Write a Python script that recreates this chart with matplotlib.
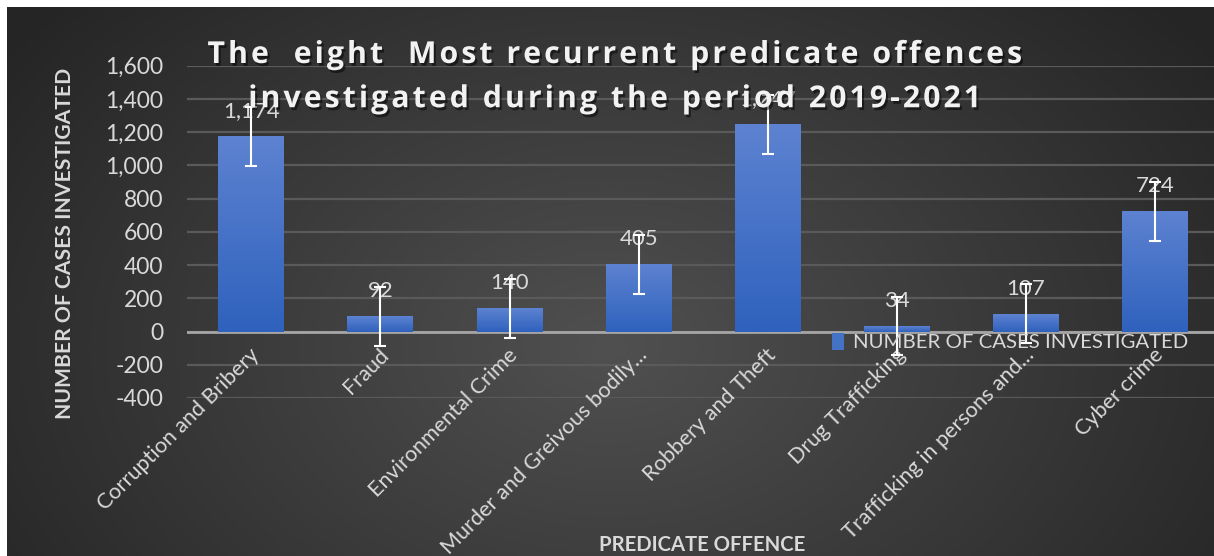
import numpy as np
import matplotlib
matplotlib.use('Agg')
import matplotlib.pyplot as plt
import matplotlib.transforms as mtransforms
import matplotlib.patheffects as pe
from matplotlib.patches import Patch
from matplotlib.ticker import FuncFormatter


offences = ['Corruption and Bribery', 'Fraud', 'Environmental Crime',
            'Murder and Greivous bodily...', 'Robbery and Theft',
            'Drug Trafficking', 'Trafficking in persons and...', 'Cyber crime']
cases = [1174, 92, 140, 405, 1247, 34, 107, 724]
series_name = 'NUMBER OF CASES INVESTIGATED'
title_lines = ['The  eight  Most recurrent predicate offences',
               'investigated during the period 2019-2021']
y_ticks = list(range(-400, 1601, 200))

# standard error bars (same length on every bar, as in Excel)
vals = np.asarray(cases, dtype=float)
std_err = vals.std(ddof=1) / np.sqrt(len(vals))

W, H = 1214, 556
plt.rcParams['font.family'] = ['Lato', 'DejaVu Sans']
txt = '#d9d9d9'
bar_blue = '#4472c4'

fig = plt.figure(figsize=(W / 100, H / 100), dpi=100)
fig.patch.set_facecolor('white')

# dark radial background of the chart area
bg = fig.add_axes([7 / W, 0, 1 - 7 / W, 1 - 7 / H], zorder=-10)
gx, gy = np.meshgrid(np.linspace(0, 1, 400), np.linspace(0, 1, 200))
r = np.sqrt(((gx - 0.5) / 0.62) ** 2 + ((gy - 0.62) / 0.95) ** 2)
r = np.clip(r, 0, 1)
c0, c1 = np.array([0x50, 0x50, 0x50]) / 255, np.array([0x25, 0x25, 0x25]) / 255
img = c0[None, None, :] * (1 - r[..., None]) + c1[None, None, :] * r[..., None]
bg.imshow(img, aspect='auto', extent=[0, 1, 0, 1], origin='upper')
bg.axis('off')

ax = fig.add_axes([186.7 / W, 158 / H, 1033 / W, 332.3 / H])
ax.set_facecolor('none')
x = np.arange(len(offences))
bars = ax.bar(x, cases, width=0.51, color=bar_blue, zorder=3)

# vertical blue gradient inside each bar
grad = np.linspace(0, 1, 100)[:, None]
top_c, bot_c = np.array([0x5d, 0x82, 0xd1]) / 255, np.array([0x2f, 0x62, 0xbd]) / 255
bar_img = top_c[None, None, :] * (1 - grad[..., None]) + bot_c[None, None, :] * grad[..., None]
for b in bars:
    b.set_facecolor('none')
    b.set_edgecolor('none')
    im = ax.imshow(bar_img, aspect='auto', zorder=3, origin='upper',
                   extent=[b.get_x(), b.get_x() + b.get_width(), 0, b.get_height()])
    im.set_clip_path(b)

ax.errorbar(x, cases, yerr=std_err, fmt='none', ecolor='white', elinewidth=1.5,
            capsize=4.5, capthick=1.5, zorder=5)

for xi, v in zip(x, cases):
    ax.annotate(f'{v:,}', (xi, v), xytext=(0, 18), textcoords='offset points',
                ha='center', va='center', color=txt, fontsize=16, zorder=4)

ax.set_xlim(-0.5, len(offences) - 0.5)
ax.set_ylim(-400, 1600)
ax.set_yticks(y_ticks)
ax.yaxis.set_major_formatter(FuncFormatter(lambda v, p: f'{int(v):,}'))
ax.tick_params(axis='y', length=0, pad=17, labelsize=16.5, labelcolor=txt)
ax.set_xticks(x)
ax.set_xticklabels([])
ax.tick_params(axis='x', length=0)
ax.grid(axis='y', color='#5a5a5a', lw=1.6, zorder=0)
ax.axhline(0, color='#a6a6a6', lw=2, zorder=2)
for s in ax.spines.values():
    s.set_visible(False)

# category labels sit just under the zero line
off = mtransforms.ScaledTranslation(-2 / 100, -13 / 100, fig.dpi_scale_trans)
for xi, lab in zip(x, offences):
    ax.text(xi, 0, lab, rotation=45, rotation_mode='anchor', ha='right', va='top',
            color=txt, fontsize=15.6, transform=ax.transData + off, zorder=4)

leg = ax.legend(handles=[Patch(facecolor=bar_blue, label=series_name)],
                loc='center left', bbox_to_anchor=(822 / W, 1 - 342 / H),
                bbox_transform=fig.transFigure, frameon=False, fontsize=14.7,
                handlelength=0.6, handleheight=0.9, handletextpad=0.4, borderpad=0)
for t in leg.get_texts():
    t.set_color(txt)

fig.text(65 / W, 1 - 243 / H, series_name, rotation=90, ha='center', va='center',
         color=txt, fontsize=15.2, fontweight='bold')
fig.text(702 / W, 1 - 545 / H, 'PREDICATE OFFENCE', ha='center', va='center',
         color=txt, fontsize=14.6, fontweight='bold')

# title with widened letter spacing (hair spaces between characters)
spaced = '\n'.join('\u200a'.join(line) for line in title_lines)
fig.text(614 / W, 1 - 40 / H, spaced, ha='center', va='top', multialignment='center',
         color='#f2f2f2', fontsize=21.8, fontweight='bold', family=['Open Sans', 'DejaVu Sans'],
         linespacing=1.62,
         path_effects=[pe.withSimplePatchShadow(offset=(1.5, -2), shadow_rgbFace='black', alpha=0.5)])

fig.savefig('out.png', dpi=100)
